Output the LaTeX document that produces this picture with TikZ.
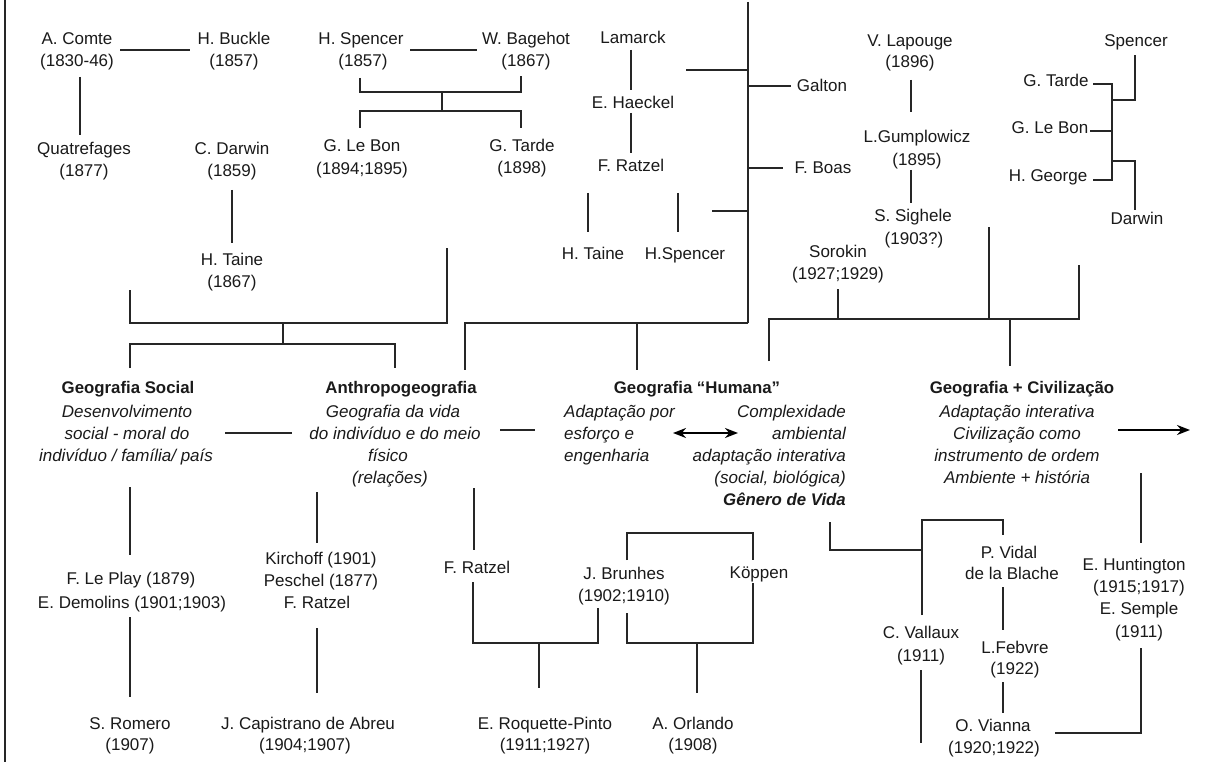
\documentclass[tikz,border=0pt]{standalone}
\usepackage{fontspec}
\setmainfont{Liberation Sans}
\usetikzlibrary{arrows.meta}
\definecolor{ink}{HTML}{1A1A1A}
\definecolor{lncol}{HTML}{262626}
\begin{document}
\begin{tikzpicture}[x=1pt,y=-1pt,
  tx/.style={anchor=base,inner sep=0pt,text=ink,font=\fontsize{17}{22}\selectfont},
  txl/.style={tx,anchor=base west},
  txr/.style={tx,anchor=base east},
  hd/.style={tx,font=\fontsize{16.8}{22}\selectfont\bfseries},
  it/.style={tx,font=\fontsize{17}{22}\selectfont\itshape},
  itl/.style={it,anchor=base west},
  itr/.style={it,anchor=base east},
  bir/.style={tx,anchor=base east,font=\fontsize{16.8}{22}\selectfont\bfseries\itshape},
  ln/.style={draw=lncol,line width=1.4pt},
  thick ln/.style={draw=lncol,line width=2.2pt},
  arr/.style={draw=black,line width=2pt,-{Stealth[length=13pt,width=10pt]}},
  darr/.style={draw=black,line width=2pt,{Stealth[length=13pt,width=10pt]}-{Stealth[length=13pt,width=10pt]}}]
\useasboundingbox (0,0) rectangle (1215,762);
\fill[white] (0,0) rectangle (1215,762);

% left border
\draw[draw=lncol,line width=2.5pt] (5,0) -- (5,762);

% ---------- top row ----------
\node[tx] (comteA) at (77,45) {A. Comte};
\node[tx] (comteB) at (77,67) {(1830-46)};
\node[tx] (buckleA) at (234,45) {H. Buckle};
\node[tx] (buckleB) at (234,67) {(1857)};
\node[tx] (spencerA) at (361,45) {H. Spencer};
\node[tx] (spencerB) at (363,67) {(1857)};
\node[tx] (bagehotA) at (526,45) {W. Bagehot};
\node[tx] (bagehotB) at (526,67) {(1867)};
\node[tx] (lamarck) at (633,44) {Lamarck};
\node[tx] (haeckel) at (633,109) {E. Haeckel};
\node[tx] (ratzelT) at (631,172) {F. Ratzel};
\node[tx] (taineT) at (593,259) {H. Taine};
\node[tx] (spencerT) at (685,259) {H.Spencer};
\node[tx] (galton) at (822,92) {Galton};
\node[tx] (boas) at (823,174) {F. Boas};
\node[tx] (lapougeA) at (910,47) {V. Lapouge};
\node[tx] (lapougeB) at (910,68) {(1896)};
\node[tx] (gumpA) at (917,143) {L.Gumplowicz};
\node[tx] (gumpB) at (917,166) {(1895)};
\node[tx] (sigheleA) at (913,222) {S. Sighele};
\node[tx] (sigheleB) at (914,244) {(1903?)};
\node[tx] (sorokinA) at (838,257) {Sorokin};
\node[tx] (sorokinB) at (838,279) {(1927;1929)};
\node[tx] (spencerR) at (1136,47) {Spencer};
\node[tx] (tardeR) at (1056,87) {G. Tarde};
\node[tx] (lebonR) at (1050,134) {G. Le Bon};
\node[tx] (george) at (1048,182) {H. George};
\node[tx] (darwinR) at (1137,225) {Darwin};
\node[tx] (quatreA) at (84,155) {Quatrefages};
\node[tx] (quatreB) at (84,177) {(1877)};
\node[tx] (darwinA) at (232,155) {C. Darwin};
\node[tx] (darwinB) at (232,177) {(1859)};
\node[tx] (taineA) at (232,265) {H. Taine};
\node[tx] (taineB) at (232,287) {(1867)};
\node[tx] (lebonA) at (362,152) {G. Le Bon};
\node[tx] (lebonB) at (362,175) {(1894;1895)};
\node[tx] (tardeA) at (522,152) {G. Tarde};
\node[tx] (tardeB) at (522,174) {(1898)};

% ---------- headings ----------
\node[hd] (social) at (128,393) {Geografia Social};
\node[it] (social1) at (127,417) {Desenvolvimento};
\node[it] (social2) at (127,439) {social - moral do};
\node[it] (social3) at (126,461) {indivíduo / família/ país};

\node[hd] (anthro) at (401,393) {Anthropogeografia};
\node[it] (anthro1) at (393,417) {Geografia da vida};
\node[it] (anthro2) at (395,439) {do indivíduo e do meio};
\node[it] (anthro3) at (388,461) {físico};
\node[it] (anthro4) at (390,483) {(relações)};

\node[hd] (humana) at (697,393) {Geografia “Humana”};
\node[itl] (humL1) at (564,417) {Adaptação por};
\node[itl] (humL2) at (564,439) {esforço e};
\node[itl] (humL3) at (564,461) {engenharia};
\node[itr] (humR1) at (846,417) {Complexidade};
\node[itr] (humR2) at (846,439) {ambiental};
\node[itr] (humR3) at (846,461) {adaptação interativa};
\node[itr] (humR4) at (846,483) {(social, biológica)};
\node[bir] (genero) at (846,505) {Gênero de Vida};

\node[hd] (civ) at (1022,393) {Geografia + Civilização};
\node[it] (civ1) at (1017,417) {Adaptação interativa};
\node[it] (civ2) at (1017,439) {Civilização como};
\node[it] (civ3) at (1017,461) {instrumento de ordem};
\node[it] (civ4) at (1017,483) {Ambiente + história};

% ---------- lower ----------
\node[tx] (leplay) at (131,584) {F. Le Play (1879)};
\node[tx] (demolins) at (132,608) {E. Demolins (1901;1903)};
\node[tx] (romeroA) at (130,729) {S. Romero};
\node[tx] (romeroB) at (130,750) {(1907)};
\node[tx] (kirchoff) at (321,564) {Kirchoff (1901)};
\node[tx] (peschel) at (321,586) {Peschel (1877)};
\node[tx] (ratzelK) at (317,608) {F. Ratzel};
\node[tx] (capA) at (308,729) {J. Capistrano de Abreu};
\node[tx] (capB) at (305,750) {(1904;1907)};
\node[tx] (ratzelB) at (477,573) {F. Ratzel};
\node[tx] (brunhesA) at (624,579) {J. Brunhes};
\node[tx] (brunhesB) at (624,601) {(1902;1910)};
\node[tx] (koppen) at (759,578) {Köppen};
\node[tx] (roqA) at (545,729) {E. Roquette-Pinto};
\node[tx] (roqB) at (545,750) {(1911;1927)};
\node[tx] (orlA) at (693,729) {A. Orlando};
\node[tx] (orlB) at (693,750) {(1908)};
\node[tx] (vidalA) at (1009,558) {P. Vidal};
\node[tx] (vidalB) at (1012,579) {de la Blache};
\node[tx] (febvreA) at (1015,653) {L.Febvre};
\node[tx] (febvreB) at (1015,674) {(1922)};
\node[tx] (viannaA) at (993,731) {O. Vianna};
\node[tx] (viannaB) at (994,753) {(1920;1922)};
\node[tx] (vallauxA) at (921,638) {C. Vallaux};
\node[tx] (vallauxB) at (921,661) {(1911)};
\node[tx] (huntA) at (1134,570) {E. Huntington};
\node[tx] (huntB) at (1139,592) {(1915;1917)};
\node[tx] (sempleA) at (1139,614) {E. Semple};
\node[tx] (sempleB) at (1139,637) {(1911)};

% ---------- connectors: top left ----------
\draw[ln] (120,50) -- (190,50);
\draw[ln] (80,77) -- (80,135);
\draw[ln] (232,190) -- (232,243);
\draw[ln] (130,290) -- (130,323) -- (447,323) -- (447,248);
\draw[ln] (283,323) -- (283,344);
\draw[ln] (130,368) -- (130,344) -- (395,344) -- (395,368);
\draw[ln] (410,50) -- (477,50);
\draw[ln] (360,78) -- (360,92) -- (521,92) -- (521,76);
\draw[ln] (442,92) -- (442,111);
\draw[ln] (360,128) -- (360,111) -- (521,111) -- (521,128);

% ---------- connectors: middle ----------
\draw[ln] (631,50) -- (631,90);
\draw[ln] (631,113) -- (631,153);
\draw[ln] (588,193) -- (588,232);
\draw[ln] (678,193) -- (678,232);
\draw[thick ln] (748,2) -- (748,323);
\draw[ln] (686,70) -- (748,70);
\draw[ln] (712,211) -- (748,211);
\draw[ln] (748,86) -- (791,86);
\draw[ln] (748,168) -- (783,168);
\draw[ln] (748,323) -- (465,323) -- (465,370);
\draw[ln] (637,323) -- (637,370);

% ---------- connectors: right ----------
\draw[ln] (911,80) -- (911,112);
\draw[ln] (911,170) -- (911,203);
\draw[ln] (769,361) -- (769,319) -- (1079,319) -- (1079,265);
\draw[ln] (838,289) -- (838,319);
\draw[ln] (989,227) -- (989,319);
\draw[ln] (1010,319) -- (1010,366);
\draw[ln] (1093,84) -- (1112,84) -- (1112,180) -- (1093,180);
\draw[ln] (1090,131) -- (1112,131);
\draw[ln] (1112,100) -- (1135,100) -- (1135,55);
\draw[ln] (1112,161) -- (1135,161) -- (1135,210);

% ---------- middle row ----------
\draw[ln] (225,433) -- (292,433);
\draw[ln] (500,430) -- (535,430);
\draw[darr] (673,433) -- (738,433);
\draw[arr] (1118,430) -- (1190,430);

% ---------- lower connectors ----------
\draw[ln] (130,487) -- (130,555);
\draw[ln] (130,617) -- (130,697);
\draw[ln] (317,492) -- (317,543);
\draw[ln] (317,628) -- (317,693);
\draw[ln] (474,488) -- (474,550);
\draw[ln] (473,582) -- (473,643) -- (598,643) -- (598,608);
\draw[ln] (539,643) -- (539,688);
\draw[ln] (627,560) -- (627,533) -- (753,533) -- (753,560);
\draw[ln] (627,613) -- (627,643) -- (753,643) -- (753,583);
\draw[ln] (697,643) -- (697,693);
\draw[ln] (830,522) -- (830,550) -- (922,550);
\draw[ln] (922,615) -- (922,520) -- (1003,520) -- (1003,535);
\draw[ln] (1003,587) -- (1003,630);
\draw[ln] (1003,682) -- (1003,713);
\draw[ln] (921,670) -- (921,743);
\draw[ln] (1141,473) -- (1141,543);
\draw[ln] (1055,733) -- (1141,733) -- (1141,648);
\end{tikzpicture}
\end{document}
